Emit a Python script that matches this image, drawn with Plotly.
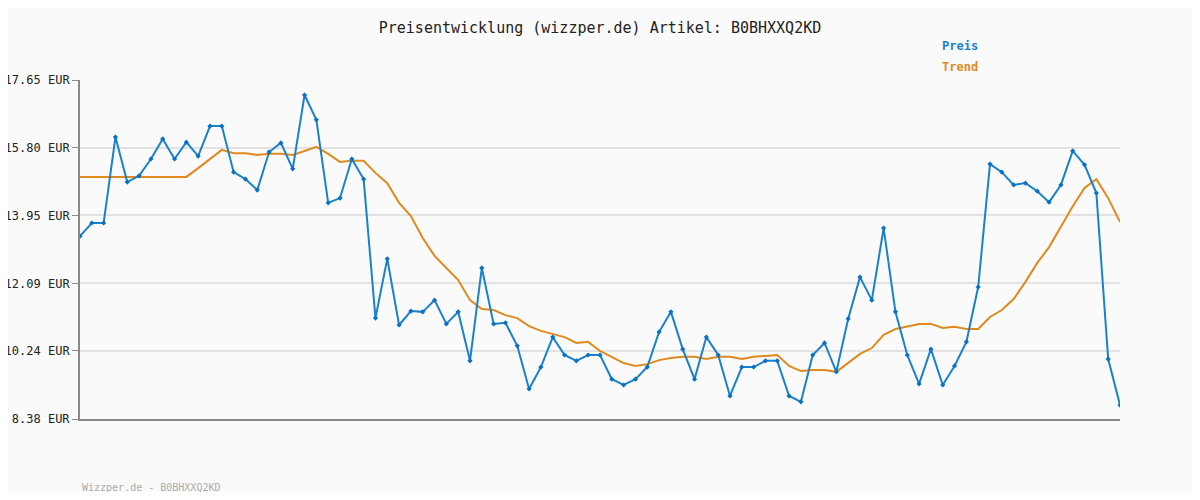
import plotly.graph_objects as go

preis = [13.38, 13.74, 13.74, 16.09, 14.86, 15.03, 15.49, 16.04, 15.49, 15.95,
         15.57, 16.39, 16.39, 15.13, 14.94, 14.64, 15.68, 15.93, 15.22, 17.24,
         16.56, 14.29, 14.42, 15.49, 14.94, 11.14, 12.76, 10.95, 11.33, 11.31,
         11.63, 10.98, 11.31, 9.97, 12.51, 10.98, 11.01, 10.38, 9.20, 9.80,
         10.62, 10.13, 9.97, 10.13, 10.13, 9.47, 9.31, 9.47, 9.80, 10.76,
         11.31, 10.29, 9.47, 10.62, 10.13, 9.01, 9.80, 9.80, 9.97, 9.97,
         9.01, 8.85, 10.13, 10.46, 9.67, 11.12, 12.26, 11.63, 13.60, 11.31,
         10.13, 9.34, 10.29, 9.31, 9.83, 10.49, 11.99, 15.35, 15.13, 14.78,
         14.83, 14.61, 14.31, 14.78, 15.71, 15.33, 14.56, 10.02, 8.76]
trend = [15.00] * 10 + [15.24, 15.49, 15.74, 15.65, 15.65, 15.60, 15.63, 15.63, 15.60, 15.71,
         15.82, 15.63, 15.41, 15.44, 15.44, 15.11, 14.83, 14.29, 13.93, 13.33,
         12.84, 12.51, 12.18, 11.63, 11.39, 11.36, 11.22, 11.14, 10.92, 10.79,
         10.70, 10.62, 10.46, 10.49, 10.24, 10.08, 9.91, 9.83, 9.88, 9.99,
         10.05, 10.08, 10.08, 10.02, 10.08, 10.08, 10.02, 10.08, 10.10, 10.13,
         9.83, 9.69, 9.72, 9.72, 9.67, 9.91, 10.16, 10.32, 10.68, 10.84,
         10.92, 10.98, 10.98, 10.87, 10.90, 10.84, 10.84, 11.17, 11.36, 11.66,
         12.13, 12.65, 13.08, 13.63, 14.20, 14.70, 14.94, 14.42, 13.77]
tick_vals = [8.38, 10.24, 12.09, 13.95, 15.80, 17.65]
tick_text = ["8.38 EUR", "10.24 EUR", "12.09 EUR", "13.95 EUR", "15.80 EUR", "17.65 EUR"]
x = list(range(len(preis)))

mono = "DejaVu Sans Mono"
blue = "#1a82cc"
orange = "#e08a1e"

fig = go.Figure()
fig.add_trace(go.Scatter(x=x, y=trend, mode="lines", name="Trend",
                         line=dict(color=orange, width=2)))
fig.add_trace(go.Scatter(x=x, y=preis, mode="lines+markers", name="Preis",
                         line=dict(color=blue, width=2),
                         marker=dict(symbol="diamond", size=4, color="#0a70c0")))

fig.update_layout(
    width=1184, height=484,
    margin=dict(l=72, r=72, t=72, b=73),
    paper_bgcolor="#fafafa", plot_bgcolor="#fafafa",
    showlegend=False,
    font=dict(family=mono, size=12, color="#222"),
    title=dict(text="Preisentwicklung (wizzper.de) Artikel: B0BHXXQ2KD",
               x=0.5, xanchor="center", y=0.959, yanchor="middle", automargin=False,
               font=dict(family=mono, size=15, color="#222")),
    xaxis=dict(range=[0, len(preis) - 1], showgrid=False, showticklabels=False,
               zeroline=False, showline=True, linecolor="#888", linewidth=2, ticks="",
               automargin=False),
    yaxis=dict(range=[8.38, 17.65], tickvals=tick_vals, ticktext=tick_text,
               showgrid=True, gridcolor="#e2e2e2", gridwidth=2, zeroline=False,
               showline=True, linecolor="#888", linewidth=2, automargin=False,
               ticks="outside", ticklen=6, tickcolor="#888",
               tickfont=dict(family=mono, size=12, color="#222")),
)
fig.add_annotation(text="<b>Preis</b>", xref="paper", yref="paper", x=0.827, y=1.100,
                   showarrow=False, xanchor="left", yanchor="middle",
                   font=dict(family=mono, size=12, color=blue))
fig.add_annotation(text="<b>Trend</b>", xref="paper", yref="paper", x=0.827, y=1.038,
                   showarrow=False, xanchor="left", yanchor="middle",
                   font=dict(family=mono, size=12, color=orange))
fig.add_annotation(text="Wizzper.de - B0BHXXQ2KD", xref="paper", yref="paper", x=0, y=-0.2006,
                   showarrow=False, xanchor="left", yanchor="middle",
                   font=dict(family=mono, size=10, color="#aaa"))
fig.write_html("out.html")
